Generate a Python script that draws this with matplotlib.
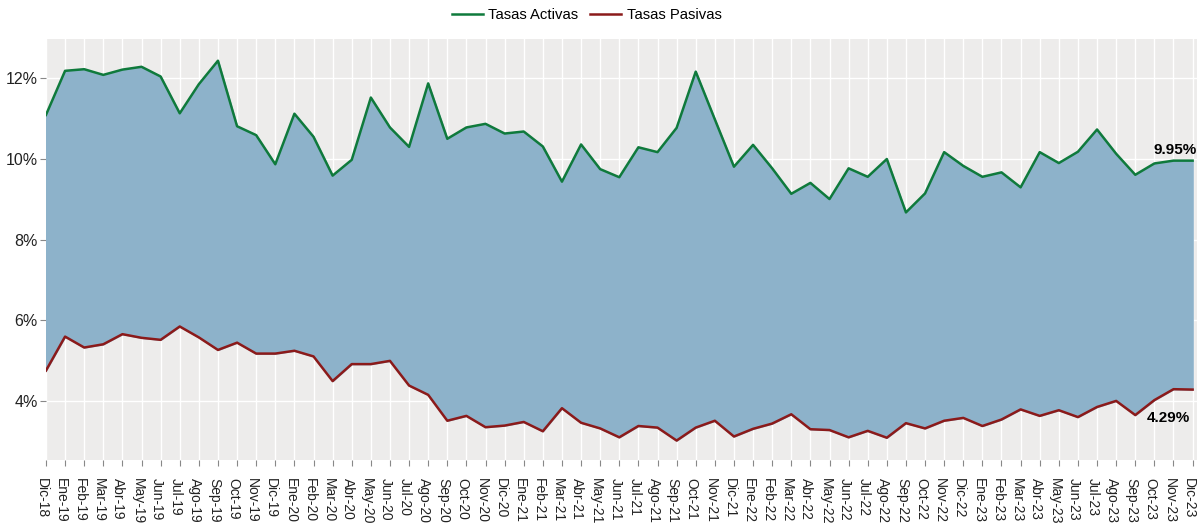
import matplotlib
matplotlib.use("Agg")
import matplotlib.pyplot as plt
import matplotlib.transforms as mtrans
import numpy as np

plt.rcParams['font.family'] = ['Liberation Sans', 'DejaVu Sans']

meses = ["Dic", "Ene", "Feb", "Mar", "Abr", "May", "Jun", "Jul", "Ago", "Sep", "Oct", "Nov"]
fechas = ["Dic-18"] + [m + "-" + str(a) for a in range(19, 24) for m in meses[1:] + ["Dic"]]

tasas_activas = [11.08, 12.17, 12.21, 12.07, 12.20, 12.27, 12.03, 11.12, 11.84, 12.42,
                 10.80, 10.58, 9.86, 11.11, 10.54, 9.58, 9.97, 11.51, 10.77, 10.29,
                 11.86, 10.49, 10.77, 10.86, 10.62, 10.67, 10.30, 9.43, 10.35, 9.74,
                 9.54, 10.28, 10.16, 10.76, 12.15, 10.97, 9.80, 10.34, 9.76, 9.13,
                 9.40, 9.00, 9.76, 9.55, 9.99, 8.67, 9.14, 10.16, 9.82, 9.55,
                 9.66, 9.29, 10.16, 9.89, 10.17, 10.72, 10.12, 9.60, 9.88, 9.95,
                 9.95]
tasas_pasivas = [4.76, 5.60, 5.33, 5.41, 5.66, 5.57, 5.52, 5.85, 5.58, 5.27,
                 5.45, 5.18, 5.18, 5.25, 5.11, 4.50, 4.92, 4.92, 5.00, 4.39,
                 4.16, 3.52, 3.64, 3.36, 3.40, 3.49, 3.26, 3.83, 3.47, 3.33,
                 3.11, 3.39, 3.35, 3.03, 3.35, 3.52, 3.13, 3.32, 3.45, 3.68,
                 3.31, 3.29, 3.11, 3.27, 3.10, 3.46, 3.33, 3.52, 3.59, 3.39,
                 3.55, 3.80, 3.64, 3.78, 3.61, 3.86, 4.01, 3.66, 4.03, 4.30,
                 4.29]

x = np.arange(len(fechas))

fig = plt.figure(figsize=(11.97, 5.27), dpi=100)
ax = fig.add_axes([0.0384, 0.1271, 0.9616, 0.7989])
ax.set_facecolor('#edeceb')

ax.fill_between(x, tasas_pasivas, tasas_activas, color='#8db2ca', zorder=2)
ax.plot(x, tasas_activas, color='#0f7a3c', lw=1.8, label='Tasas Activas', zorder=3)
ax.plot(x, tasas_pasivas, color='#8b1a1a', lw=1.8, label='Tasas Pasivas', zorder=3)

ax.set_xlim(0, 60.23)
ax.set_ylim(2.549, 12.957)
ax.set_xticks(x)
ax.set_xticklabels(fechas, rotation=-90, fontsize=10, color='#222222')
ax.set_yticks([4, 6, 8, 10, 12])
ax.set_yticklabels(['4%', '6%', '8%', '10%', '12%'], fontsize=11.5, color='#222222')
ax.tick_params(axis='both', length=4, color='#888888', width=0.8)
ax.tick_params(axis='x', pad=9)
ax.tick_params(axis='y', pad=2)
# correr un poco las etiquetas a la izquierda (despues de tick_params)
desplaza = mtrans.ScaledTranslation(-4 / 100, 0, fig.dpi_scale_trans)
for lbl in ax.get_xticklabels():
    lbl.set_transform(lbl.get_transform() + desplaza)
ax.grid(True, color='white', lw=1, zorder=1)
ax.set_axisbelow(True)
for s in ax.spines.values():
    s.set_visible(False)

ax.annotate(f"{tasas_activas[-1]:.2f}%", (x[-1], tasas_activas[-1]), xytext=(4, 11),
            textcoords='offset pixels', ha='right', va='center', fontsize=11, fontweight='bold')
ax.annotate(f"{tasas_pasivas[-1]:.2f}%", (x[-1], tasas_pasivas[-1]), xytext=(-3, -28),
            textcoords='offset pixels', ha='right', va='center', fontsize=11, fontweight='bold')

fig.legend(loc='upper center', bbox_to_anchor=(0.49, 1.01), ncol=2, frameon=False,
           fontsize=10.7, handlelength=2.1, handletextpad=0.35, columnspacing=0.8)

fig.savefig('out.png', dpi=100)
